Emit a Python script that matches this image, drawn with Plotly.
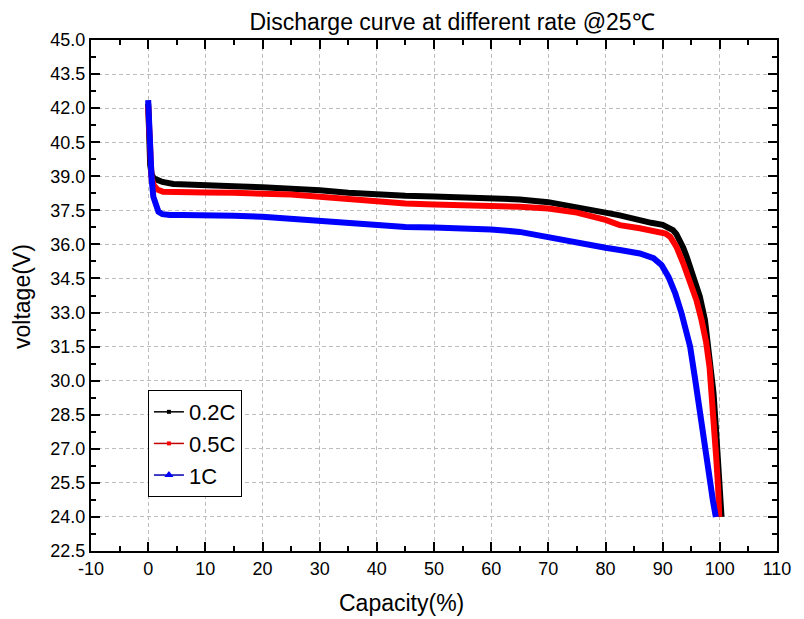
import plotly.graph_objects as go

# Discharge data
cap_02c = [0, 0.1, 0.2, 0.35, 0.6, 1.0, 1.6, 2.5, 4.4, 7, 10, 15, 20, 25, 30, 35, 40, 45, 50, 56,
           60, 65, 70, 75, 80, 82.5, 86, 88, 90, 91, 91.8, 92.4, 93, 93.6, 94.2, 95.3, 96.5, 97.4,
           98.3, 98.9, 99.3, 99.7, 100.0, 100.3]
volt_02c = [42.2, 41.3, 40.3, 39.5, 39.1, 38.9, 38.84, 38.75, 38.66, 38.62, 38.6, 38.56, 38.52, 38.48,
            38.38, 38.27, 38.18, 38.14, 38.11, 38.07, 38.05, 37.98, 37.86, 37.66, 37.4, 37.28, 37.04,
            36.95, 36.86, 36.77, 36.63, 36.45, 36.19, 35.85, 35.46, 34.58, 33.7, 32.67, 31.0, 29.44,
            27.97, 26.5, 25.3, 24.0]

cap_05c = [0, 0.1, 0.2, 0.35, 0.6, 1.0, 1.6, 2.6, 4, 7, 10, 15, 20, 25, 30, 35, 40.6, 45, 50, 56,
           60, 65, 70, 75, 80, 82.5, 86, 89.5, 90.5, 91.3, 92.4, 93.6, 94.8, 95.9, 96.8, 97.6, 98.2,
           98.6, 99.0, 99.4, 99.7, 99.9]
volt_05c = [42.1, 41.2, 40.3, 39.5, 38.9, 38.6, 38.42, 38.32, 38.3, 38.29, 38.28, 38.27, 38.25, 38.2,
            38.1, 37.98, 37.85, 37.8, 37.76, 37.73, 37.7, 37.66, 37.58, 37.4, 37.08, 36.85, 36.71,
            36.56, 36.48, 36.34, 35.9, 35.17, 34.29, 33.55, 32.67, 31.7, 30.6, 29.44, 27.97, 26.5,
            25.3, 24.0]

cap_1c = [0, 0.1, 0.2, 0.35, 0.6, 0.9, 1.3, 1.8, 2.5, 3.8, 6, 10, 15, 20, 27, 33, 40.6, 45, 50, 56,
          60, 65, 70, 75, 80, 82.5, 86, 88.4, 89.8, 91, 92.2, 93.3, 94.8, 95.7, 96.5, 97.4, 98.3,
          98.8, 99.3]
volt_1c = [42.35, 41.5, 40.6, 39.7, 38.9, 38.1, 37.7, 37.44, 37.33, 37.29, 37.29, 37.29, 37.26, 37.22,
           37.1, 36.95, 36.81, 36.77, 36.74, 36.71, 36.66, 36.55, 36.3, 36.1, 35.85, 35.75, 35.6,
           35.39, 35.09, 34.58, 33.85, 32.97, 31.5, 30.03, 28.56, 27.09, 25.48, 24.7, 24.0]

series_names = ['0.2C', '0.5C', '1C']

x_ticks = [-10, 0, 10, 20, 30, 40, 50, 60, 70, 80, 90, 100, 110]
x_tick_labels = ['-10', '0', '10', '20', '30', '40', '50', '60', '70', '80', '90', '100', '110']

FONT = 'Arial, Liberation Sans, sans-serif'

fig = go.Figure()

# thick curves (the original is drawn with dense markers)
curves = [
    (cap_02c, volt_02c, '#000000'),
    (cap_05c, volt_05c, '#ff0000'),
    (cap_1c, volt_1c, '#0000ff'),
]
for (x, y, color), name in zip(curves, series_names):
    fig.add_trace(go.Scatter(
        x=x, y=y, mode='lines', name=name,
        line=dict(color=color, width=6),
        showlegend=False
    ))

# legend-only entries: thin line with a small symbol
legend_style = [
    ('#000000', '#000000', 'square', 4),
    ('#c00000', '#ff0000', 'square', 4),
    ('#0000b0', '#0000ff', 'triangle-up', 8),
]
for (lc, mc, sym, sz), name in zip(legend_style, series_names):
    fig.add_trace(go.Scatter(
        x=[None], y=[None], mode='lines+markers', name=name,
        line=dict(color=lc, width=1.5),
        marker=dict(color=mc, symbol=sym, size=sz)
    ))

axis_common = dict(
    showline=True, linecolor='black', linewidth=2, mirror='allticks',
    ticks='inside', ticklen=9, tickwidth=2, tickcolor='black',
    showgrid=True, gridcolor='#bdbdbd', gridwidth=1, griddash='4px,3px',
    zeroline=False,
)

fig.update_xaxes(
    range=[-10, 110], tickvals=x_ticks, ticktext=x_tick_labels,
    minor=dict(ticks='inside', ticklen=5, tickwidth=2, tickcolor='black', dtick=5, showgrid=False),
    tickfont=dict(family=FONT, size=18, color='black'),
    **axis_common
)
fig.update_yaxes(
    range=[22.5, 45], tick0=22.5, dtick=1.5, tickformat='.1f',
    minor=dict(ticks='inside', ticklen=5, tickwidth=2, tickcolor='black', dtick=0.75, showgrid=False),
    tickfont=dict(family=FONT, size=18, color='black'),
    **axis_common
)

# the page body adds an 8px offset, so the figure is 8px smaller than the window
fig.update_layout(
    width=796, height=611,
    margin=dict(l=83, r=27, t=32, b=68),
    plot_bgcolor='white', paper_bgcolor='white',
    title=dict(
        text='Discharge curve at different rate @25℃',
        font=dict(family=FONT, size=23, color='black'),
        x=444 / 796, xref='container', xanchor='center',
        y=1 - 14 / 611, yref='container', yanchor='middle'
    ),
    legend=dict(
        x=0.083, y=0.315, xanchor='left', yanchor='top',
        bgcolor='white', bordercolor='black', borderwidth=1,
        font=dict(family=FONT, size=22, color='black'),
        tracegroupgap=0
    ),
    annotations=[
        dict(text='Capacity(%)', xref='paper', yref='paper', x=0.452, y=-0.102,
             xanchor='center', yanchor='middle', showarrow=False,
             font=dict(family=FONT, size=23, color='black')),
        dict(text='voltage(V)', xref='paper', yref='paper', x=-0.1006, y=0.499,
             xanchor='center', yanchor='middle', showarrow=False, textangle=-90,
             font=dict(family=FONT, size=23, color='black')),
    ],
)

fig.write_html('out.html')
